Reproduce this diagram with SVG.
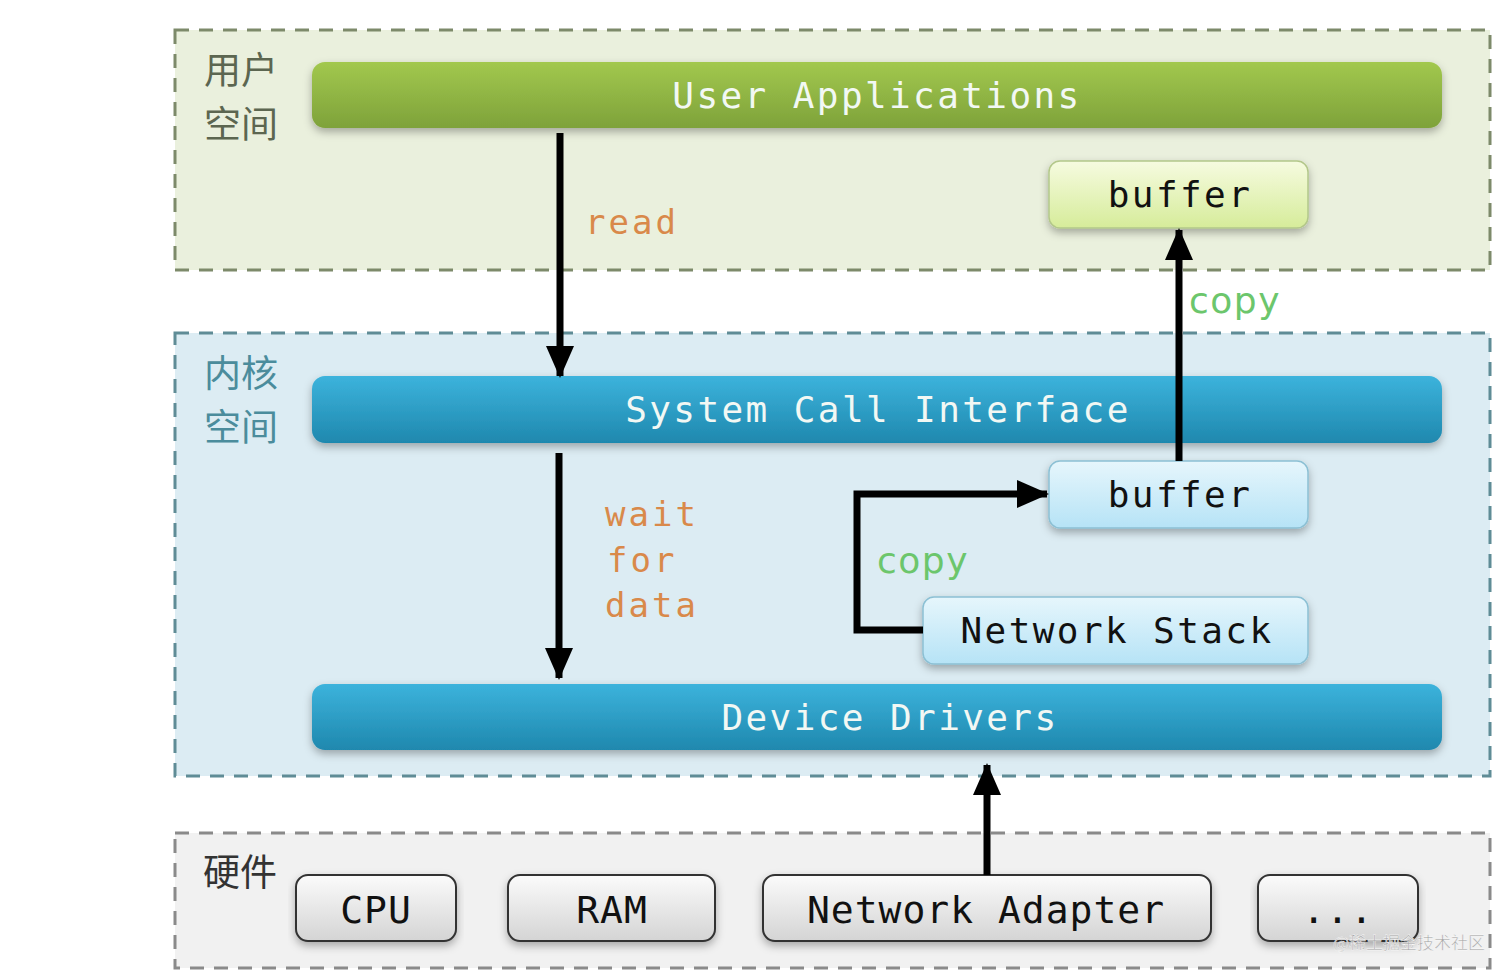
<svg xmlns="http://www.w3.org/2000/svg" width="1512" height="980" viewBox="0 0 1512 980">
<style>
.panel{stroke-width:3;stroke-dasharray:14 10}
.mono{font-family:"DejaVu Sans Mono","Liberation Mono",monospace}
.bartxt{font-size:36px;letter-spacing:2.4px;fill:#f2f8f4;text-anchor:middle}
.boxtxt{font-size:36px;letter-spacing:2.4px;fill:#111;text-anchor:middle}
.hwtxt{font-size:38px;letter-spacing:1px;fill:#111;text-anchor:middle}
.cn{font-family:"Noto Sans CJK SC","Noto Sans",sans-serif;font-size:37px}
.lbl{font-family:"DejaVu Sans Mono","Liberation Mono",monospace;font-size:34px;fill:#d9894a;letter-spacing:3px}
.copy{font-family:"DejaVu Sans","Noto Sans",sans-serif;font-size:36px;fill:#6cc66c;letter-spacing:1.5px}
.conn{fill:none;stroke:#000;stroke-width:7}
</style>
<defs>
<linearGradient id="gGreen" x1="0" y1="0" x2="0" y2="1">
<stop offset="0" stop-color="#a2c84e"/><stop offset="1" stop-color="#7ea23a"/>
</linearGradient>
<linearGradient id="gBlue" x1="0" y1="0" x2="0" y2="1">
<stop offset="0" stop-color="#3cb3dc"/><stop offset="1" stop-color="#1f88ae"/>
</linearGradient>
<linearGradient id="gYellow" x1="0" y1="0" x2="0" y2="1">
<stop offset="0" stop-color="#f6fbe0"/><stop offset="1" stop-color="#d6ec9a"/>
</linearGradient>
<linearGradient id="gLBlue" x1="0" y1="0" x2="0" y2="1">
<stop offset="0" stop-color="#e6f6fc"/><stop offset="1" stop-color="#b6e3f6"/>
</linearGradient>
<linearGradient id="gGray" x1="0" y1="0" x2="0" y2="1">
<stop offset="0" stop-color="#fbfbfb"/><stop offset="1" stop-color="#d4d4d4"/>
</linearGradient>
<filter id="sh" x="-5%" y="-30%" width="110%" height="160%">
<feDropShadow dx="0" dy="4" stdDeviation="4" flood-color="#000" flood-opacity="0.3"/>
</filter>
<marker id="ah" markerUnits="userSpaceOnUse" markerWidth="32" markerHeight="32" viewBox="0 0 32 32" refX="30" refY="16" orient="auto">
<path d="M0,2 L32,16 L0,30 Z" fill="#000"/>
</marker>
</defs>
<rect width="1512" height="980" fill="#ffffff"/>

<g id="user-space">
<rect class="panel" x="175" y="30" width="1315" height="240" fill="#eaf0dd" stroke="#7d8a6a"/>
<text class="cn" fill="#5c6650" x="204" y="84">用户</text>
<text class="cn" fill="#5c6650" x="204" y="138">空间</text>
</g>
<g id="kernel-space">
<rect class="panel" x="175" y="333" width="1315" height="443" fill="#dcecf3" stroke="#5f8c96"/>
<text class="cn" fill="#4b8c9c" x="204" y="387">内核</text>
<text class="cn" fill="#4b8c9c" x="204" y="441">空间</text>
</g>
<g id="hardware">
<rect class="panel" x="175" y="833" width="1315" height="135" fill="#f1f1f1" stroke="#8a8a8a"/>
<text class="cn" fill="#333" x="203" y="886" font-size="39">硬件</text>
</g>

<g id="user-applications">
<rect x="312" y="62" width="1130" height="66" rx="13" fill="url(#gGreen)" filter="url(#sh)"/>
<text class="mono bartxt" x="877" y="108">User Applications</text>
</g>
<g id="user-buffer">
<rect x="1049" y="161" width="259" height="67" rx="11" fill="url(#gYellow)" stroke="#b3c78a" stroke-width="1.5" filter="url(#sh)"/>
<text class="mono boxtxt" x="1180" y="207">buffer</text>
</g>
<g id="system-call-interface">
<rect x="312" y="376" width="1130" height="67" rx="13" fill="url(#gBlue)" filter="url(#sh)"/>
<text class="mono bartxt" x="878" y="422">System Call Interface</text>
</g>
<g id="kernel-buffer">
<rect x="1049" y="461" width="259" height="67" rx="11" fill="url(#gLBlue)" stroke="#8cc0d4" stroke-width="1.5" filter="url(#sh)"/>
<text class="mono boxtxt" x="1180" y="507">buffer</text>
</g>
<g id="network-stack">
<rect x="923" y="597" width="385" height="67" rx="11" fill="url(#gLBlue)" stroke="#8cc0d4" stroke-width="1.5" filter="url(#sh)"/>
<text class="mono boxtxt" x="1117" y="643">Network Stack</text>
</g>
<g id="device-drivers">
<rect x="312" y="684" width="1130" height="66" rx="13" fill="url(#gBlue)" filter="url(#sh)"/>
<text class="mono bartxt" x="890" y="730">Device Drivers</text>
</g>
<g id="cpu">
<rect x="296" y="875" width="160" height="66" rx="12" fill="url(#gGray)" stroke="#333" stroke-width="2" filter="url(#sh)"/>
<text class="mono hwtxt" x="376" y="923">CPU</text>
</g>
<g id="ram">
<rect x="508" y="875" width="207" height="66" rx="12" fill="url(#gGray)" stroke="#333" stroke-width="2" filter="url(#sh)"/>
<text class="mono hwtxt" x="612" y="923">RAM</text>
</g>
<g id="network-adapter">
<rect x="763" y="875" width="448" height="66" rx="12" fill="url(#gGray)" stroke="#333" stroke-width="2" filter="url(#sh)"/>
<text class="mono hwtxt" x="986" y="923">Network Adapter</text>
</g>
<g id="more">
<rect x="1258" y="875" width="160" height="66" rx="12" fill="url(#gGray)" stroke="#333" stroke-width="2" filter="url(#sh)"/>
<text class="mono hwtxt" x="1338" y="923">...</text>
</g>

<g id="connectors">
<path class="conn" d="M560,133 L560,376" marker-end="url(#ah)"/>
<path class="conn" d="M559,453 L559,678" marker-end="url(#ah)"/>
<path class="conn" d="M1179,461 L1179,230" marker-end="url(#ah)"/>
<path class="conn" d="M923,630 L857,630 L857,494 L1047,494" marker-end="url(#ah)"/>
<path class="conn" d="M987,875 L987,765" marker-end="url(#ah)"/>
<text class="lbl" x="585" y="234">read</text>
<text class="lbl" x="605" y="526">wait</text>
<text class="lbl" x="607" y="572">for</text>
<text class="lbl" x="605" y="617">data</text>
<text class="copy" x="1189" y="313">copy</text>
<text class="copy" x="877" y="573">copy</text>
</g>
<text x="1485" y="949" text-anchor="end" font-family="Noto Sans CJK SC,sans-serif" font-size="17" fill="#a8a8a8" stroke="#ffffff" stroke-width="0.4">@稀土掘金技术社区</text>
</svg>
